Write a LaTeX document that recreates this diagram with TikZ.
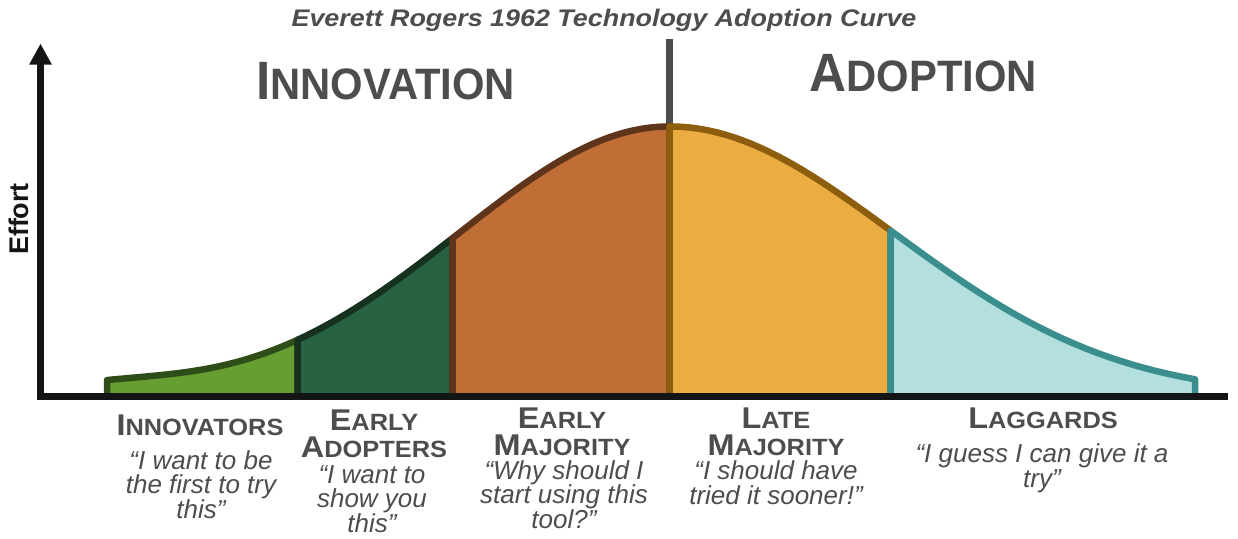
\documentclass[tikz,border=0pt]{standalone}
\usepackage{fontspec}
\setmainfont{Liberation Sans}
\newfontfamily\widefont[FakeStretch=1.08]{Liberation Sans}
\newfontfamily\titlefont[FakeStretch=1.12]{Liberation Sans}
\newfontfamily\narrowfont[FakeStretch=0.95]{Liberation Sans}
\usetikzlibrary{arrows.meta}

\definecolor{innofill}{HTML}{679E32}
\definecolor{innoline}{HTML}{2F4D18}
\definecolor{adoptfill}{HTML}{276242}
\definecolor{adoptline}{HTML}{16321F}
\definecolor{earlyfill}{HTML}{C06D36}
\definecolor{earlyline}{HTML}{5E341A}
\definecolor{latefill}{HTML}{EBAD42}
\definecolor{lateline}{HTML}{8C5E0D}
\definecolor{lagfill}{HTML}{B3E0DF}
\definecolor{lagline}{HTML}{3A8F8E}
\definecolor{axiscol}{HTML}{141516}
\definecolor{textgray}{HTML}{4D4D4F}

\newcommand{\phasename}[2]{{\narrowfont\bfseries\fontsize{54}{54}\selectfont #1\fontsize{44}{54}\selectfont #2}}
\newcommand{\capsname}[2]{{\widefont\bfseries\fontsize{30}{27}\selectfont #1\fontsize{23.5}{27}\selectfont #2}}

\begin{document}
\begin{tikzpicture}[x=1pt, y=-1pt,
   declare function={bell(\t)=(\t<669.5)*(270*exp(-0.5*((\t-669.5)/210)^2)+9*exp(-min(((\t-107)/110)^2,15)))+(\t>=669.5)*270*exp(-0.5*((\t-669.5)/224)^2);},
   every node/.style={inner sep=0pt},
   segment/.style={line width=6.5pt, line join=round},
   axisline/.style={line width=6.5pt, draw=axiscol},
   groupname/.style={anchor=base, align=center, text=textgray, font=\fontsize{23.5}{27}\selectfont},
   quote/.style={anchor=base, align=center, text=textgray, font=\fontsize{26}{24.5}\selectfont\itshape}]
   \useasboundingbox (0,0) rectangle (1238,538);

   % Title and the two phases
   \node[anchor=base, text=textgray, font=\titlefont\bfseries\itshape\fontsize{24}{24}\selectfont] (title) at (604,26.7) {Everett Rogers 1962 Technology Adoption Curve};
   \node[anchor=base, text=textgray] (innovation) at (385.7,99) {\phasename{I}{NNOVATION}};
   \node[anchor=base, text=textgray] (adoption) at (923.3,91.7) {\phasename{A}{DOPTION}};
   \draw[line width=6.5pt, textgray] (669.5,39.3) -- (669.5,135);

   % Bell curve, one segment per group
   \foreach \xa/\xb/\fc/\lc in {107/297.5/innofill/innoline, 297.5/452.5/adoptfill/adoptline,
         452.5/669.5/earlyfill/earlyline, 669.5/890.5/latefill/lateline, 890.5/1195/lagfill/lagline}
      \filldraw[segment, fill=\fc, draw=\lc] (\xa,396.5) -- plot[domain=\xa:\xb, samples=60] (\x,{396.5-bell(\x)}) -- (\xb,396.5) -- cycle;

   % Axes
   \draw[axisline] (37.5,396.5) -- (1228,396.5);
   \draw[axisline, -{Triangle[length=21pt, width=21pt]}] (40.5,399.5) -- (40.5,43.5);
   \node[rotate=90, anchor=base, text=axiscol, font=\bfseries\fontsize{27}{27}\selectfont] (effort) at (28,219) {Effort};

   % Groups (base = last line)
   \node[groupname] (innovators) at (200,435) {\capsname{I}{NNOVATORS}};
   \node[quote] (innoquote) at (201,518) {“I want to be\\the first to try\\this”};
   \node[groupname] (adopters) at (374,457.3) {\capsname{E}{ARLY}\\\capsname{A}{DOPTERS}};
   \node[quote] (adoptquote) at (372,532) {“I want to\\show you\\this”};
   \node[groupname] (earlymaj) at (562,455) {\capsname{E}{ARLY}\\\capsname{M}{AJORITY}};
   \node[quote] (earlyquote) at (564,528.3) {“Why should I\\start using this\\tool?”};
   \node[groupname] (latemaj) at (776,455) {\capsname{L}{ATE}\\\capsname{M}{AJORITY}};
   \node[quote] (latequote) at (776,504) {“I should have\\tried it sooner!”};
   \node[groupname] (laggards) at (1043,428.3) {\capsname{L}{AGGARDS}};
   \node[quote] (lagquote) at (1042,487.3) {“I guess I can give it a\\try”};
\end{tikzpicture}
\end{document}
